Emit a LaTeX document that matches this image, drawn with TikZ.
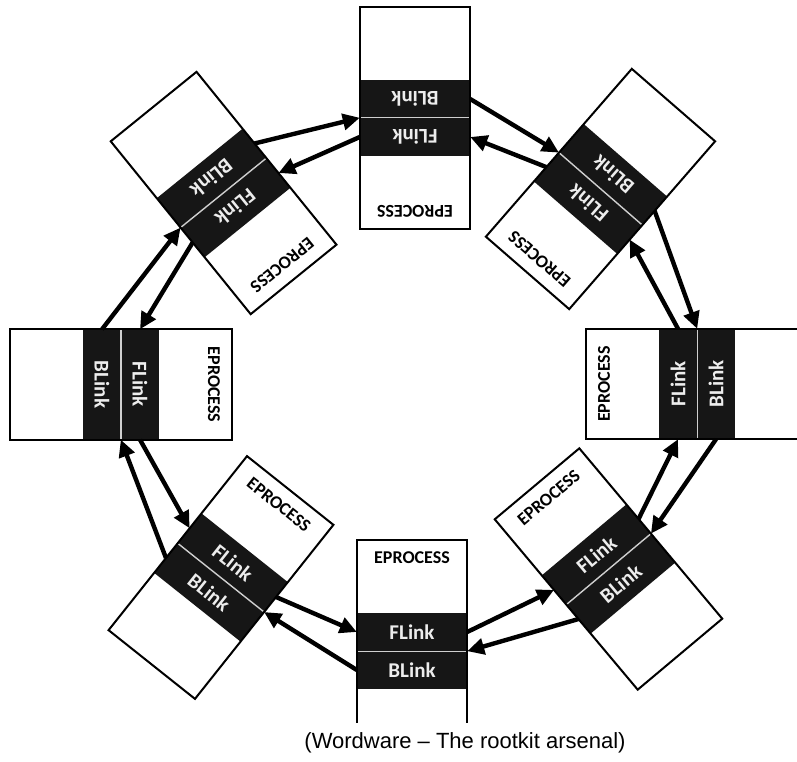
\documentclass[tikz,border=0pt]{standalone}
\usepackage{fontspec}
\setmainfont{Carlito}
\newfontfamily\capfont{Liberation Sans}
\usetikzlibrary{arrows.meta}
\definecolor{bandblack}{HTML}{161616}
\definecolor{divgray}{HTML}{CFCFCF}
\definecolor{linktxt}{HTML}{EDEDED}
\tikzset{
  blockfill/.style={fill=white, minimum width=110pt, minimum height=222pt, inner sep=0pt, transform shape},
  blockline/.style={draw=black, line width=2pt, line join=miter},
  bandbox/.style={fill=bandblack, minimum width=110pt, minimum height=38pt, inner sep=0pt, text=linktxt, font=\bfseries\fontsize{21}{21}\selectfont, transform shape},
  eptext/.style={font=\bfseries\fontsize{18}{18}\selectfont, inner sep=0pt, transform shape},
  divline/.style={draw=divgray, line width=1.4pt},
  linkarrow/.style={line width=4.4pt, -{Triangle[length=17pt,width=16pt]}},
  captext/.style={font=\capfont\fontsize{22}{22}\selectfont, inner sep=0pt},
}
\newcommand{\eblock}[4]{%
  \begin{scope}[shift={(#2,#3)}, rotate=#4]
    \node[blockfill] (#1) at (0,0) {};
    \node[bandbox] (#1-f) at (0,19) {FLink};
    \node[bandbox] (#1-b) at (0,-19) {BLink};
    \node[eptext] (#1-e) at (0,93) {EPROCESS};
    \draw[divline] (#1-f.south west) -- (#1-f.south east);
    \draw[blockline] (#1.south west) -- (#1.south east) -- (#1.north east) -- (#1.north west) -- cycle;
  \end{scope}
}
\begin{document}
\begin{tikzpicture}[x=1pt,y=1pt]
\useasboundingbox (0,0) rectangle (797,761);
\fill[white] (0,0) rectangle (797,761);
\eblock{top}{415}{643}{180}
\eblock{tr}{600.5}{572}{139}
\eblock{right}{697}{377}{90}
\eblock{br}{608.5}{192}{40}
\eblock{bottom}{412}{110}{0}
\eblock{bl}{221}{183.5}{-38.5}
\eblock{left}{121}{376.5}{-90}
\eblock{tl}{223.6}{568}{-141}
% FLink arrows (X -> next) and BLink arrows (next -> X)
\foreach \x/\n in {left/bl, bl/bottom, bottom/br, br/right, right/tr, tr/top, top/tl, tl/left}{
  \draw[linkarrow] (\x-f.east) -- (\n-f.west);
  \draw[linkarrow] (\n-b.west) -- (\x-f.south east);
}
\fill[white] (330,-10) rectangle (500,38);
\node[captext, anchor=base] (caption) at (465,13) {(Wordware – The rootkit arsenal)};
\end{tikzpicture}
\end{document}
